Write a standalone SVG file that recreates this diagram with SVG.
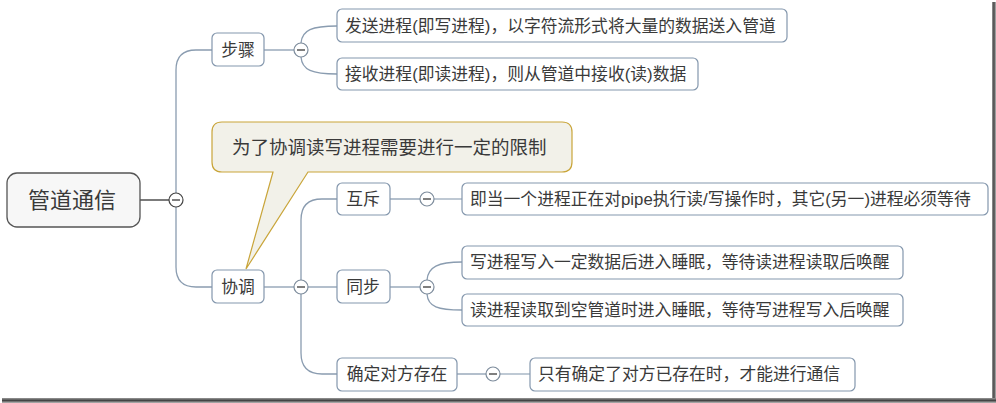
<svg xmlns="http://www.w3.org/2000/svg" width="996" height="403" viewBox="0 0 996 403">
<defs>
<style>
text{font-family:"Liberation Sans","Noto Sans CJK SC",sans-serif;fill:#3a3a3a;dominant-baseline:central}
.node{fill:#fff;stroke:#8497ad;stroke-width:1.2}
.lbl{font-size:16.8px;text-anchor:middle}
.ctext{font-size:16.8px}
.conn{fill:none;stroke:#8a9cb0;stroke-width:1.3}
.conn2{fill:none;stroke:#aebbc9;stroke-width:1.6}
.tog{fill:#fff;stroke:#7d8c9c;stroke-width:1.2}
.minus{stroke:#555;stroke-width:1.5}
</style>
<linearGradient id="shR" x1="0" x2="1" y1="0" y2="0"><stop offset="0" stop-color="#9a9a9a"/><stop offset="0.5" stop-color="#444"/><stop offset="1" stop-color="#bbb"/></linearGradient>
<linearGradient id="shB" x1="0" x2="0" y1="0" y2="1"><stop offset="0" stop-color="#9a9a9a"/><stop offset="0.5" stop-color="#444"/><stop offset="1" stop-color="#bbb"/></linearGradient>
</defs>
<rect width="996" height="403" fill="#fff"/>
<rect x="992" y="2" width="4" height="401" fill="url(#shR)"/>
<rect x="2" y="398" width="994" height="5" fill="url(#shB)"/>

<g id="connectors">
<path d="M140,200 H169" fill="none" stroke="#333" stroke-width="1.3"/>
<path class="conn" d="M176,193 V70 Q176,50 196,50 H212"/>
<path class="conn" d="M176,207 V267 Q176,287 196,287 H212"/>
<path class="conn" d="M264,50 H294"/>
<path class="conn" d="M301,43 C302,30 312,26 337,26"/>
<path class="conn" d="M301,57 C302,70 312,74 337,74"/>
<path class="conn" d="M264,287 H294"/>
<path class="conn" d="M301,280 V220 Q301,199 322,199 H337"/>
<path class="conn" d="M308,287 H337"/>
<path class="conn" d="M301,294 V353 Q301,374 322,374 H337"/>
<path class="conn" d="M390,199 H420"/>
<path class="conn2" d="M434,199 H462"/>
<path class="conn" d="M390,287 H420"/>
<path class="conn" d="M427,280 C428,267 438,262 462,262"/>
<path class="conn" d="M427,294 C428,307 438,310 462,310"/>
<path class="conn" d="M457,374 H486"/>
<path class="conn2" d="M500,374 H530"/>
</g>

<g id="toggles">
<circle cx="176" cy="200" r="7" fill="#fff" stroke="#444" stroke-width="1.2"/><path class="minus" d="M172,200 H180"/>
<circle class="tog" cx="301" cy="50" r="7"/><path class="minus" d="M297,50 H305"/>
<circle class="tog" cx="301" cy="287" r="7"/><path class="minus" d="M297,287 H305"/>
<circle class="tog" cx="427" cy="199" r="7"/><path class="minus" d="M423,199 H431"/>
<circle class="tog" cx="427" cy="287" r="7"/><path class="minus" d="M423,287 H431"/>
<circle class="tog" cx="493" cy="374" r="7"/><path class="minus" d="M489,374 H497"/>
</g>

<g id="root">
<rect x="7" y="173" width="133" height="54" rx="10" fill="#f7f7f7" stroke="#555" stroke-width="1.3"/>
<text x="72" y="200" font-size="22" text-anchor="middle">管道通信</text>
</g>

<g id="n-buzhou">
<rect class="node" x="212" y="33" width="52" height="33" rx="5"/>
<text class="lbl" x="238" y="50">步骤</text>
</g>
<g id="n-send">
<rect class="node" x="337" y="9" width="450" height="33" rx="5"/>
<text class="ctext" x="345" y="26">发送进程(即写进程)，以字符流形式将大量的数据送入管道</text>
</g>
<g id="n-recv">
<rect class="node" x="337" y="58" width="361" height="32" rx="5"/>
<text class="ctext" x="345" y="74">接收进程(即读进程)，则从管道中接收(读)数据</text>
</g>

<g id="n-xietiao">
<rect class="node" x="212" y="270" width="52" height="33" rx="5"/>
<text class="lbl" x="238" y="287">协调</text>
</g>
<g id="n-huchi">
<rect class="node" x="337" y="183" width="53" height="32" rx="5"/>
<text class="lbl" x="363" y="199">互斥</text>
</g>
<g id="n-huchi-c">
<rect class="node" x="462" y="183" width="526" height="32" rx="5"/>
<text class="ctext" x="470" y="199">即当一个进程正在对pipe执行读/写操作时，其它(另一)进程必须等待</text>
</g>
<g id="n-tongbu">
<rect class="node" x="337" y="270" width="53" height="33" rx="5"/>
<text class="lbl" x="363" y="287">同步</text>
</g>
<g id="n-tb1">
<rect class="node" x="462" y="246" width="441" height="33" rx="5"/>
<text class="ctext" x="470" y="262">写进程写入一定数据后进入睡眠，等待读进程读取后唤醒</text>
</g>
<g id="n-tb2">
<rect class="node" x="462" y="294" width="441" height="32" rx="5"/>
<text class="ctext" x="470" y="310">读进程读取到空管道时进入睡眠，等待写进程写入后唤醒</text>
</g>
<g id="n-queding">
<rect class="node" x="337" y="358" width="120" height="33" rx="5"/>
<text class="lbl" x="397" y="374">确定对方存在</text>
</g>
<g id="n-qd-c">
<rect class="node" x="530" y="358" width="325" height="33" rx="5"/>
<text class="ctext" x="538" y="374">只有确定了对方已存在时，才能进行通信</text>
</g>

<g id="callout">
<path d="M222,122 H562 Q572,122 572,132 V162 Q572,172 562,172 H308 L246,269 L273,172 H222 Q212,172 212,162 V132 Q212,122 222,122 Z" fill="#f2f1e9" stroke="#c9a53a" stroke-width="1.2"/>
<text x="232" y="147" font-size="18.5">为了协调读写进程需要进行一定的限制</text>
</g>
</svg>
